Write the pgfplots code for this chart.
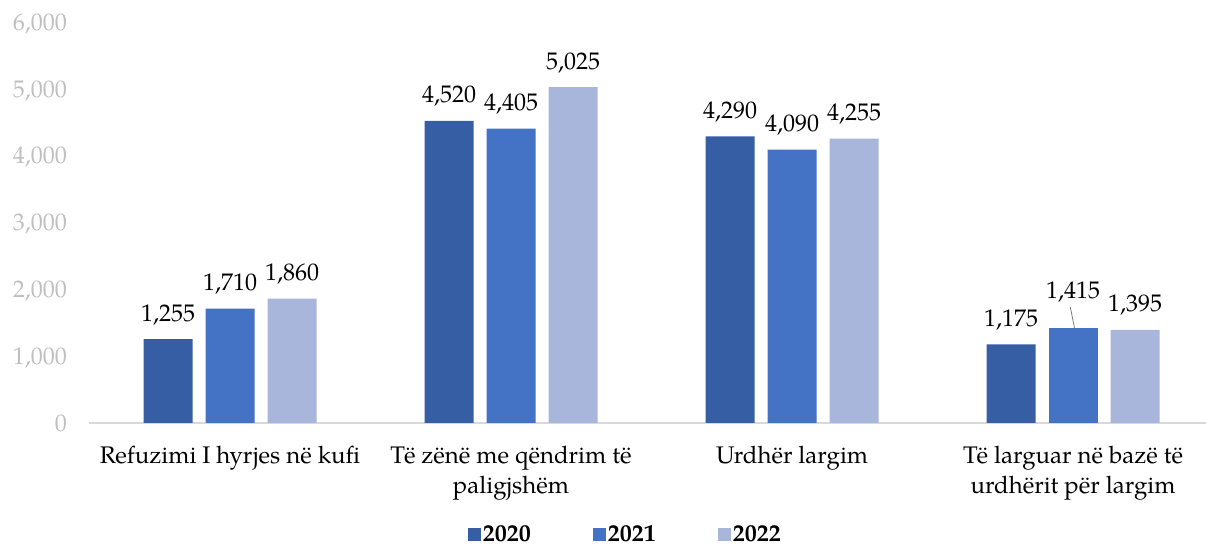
\documentclass[border=0pt]{standalone}
\usepackage{pgfplots}
\pgfplotsset{compat=1.18}
\usepackage{fontspec}
\setmainfont{TeX Gyre Pagella}
\definecolor{c20}{RGB}{54,94,164}
\definecolor{c21}{RGB}{68,114,196}
\definecolor{c22}{RGB}{169,182,219}
\definecolor{tickgray}{RGB}{191,191,191}
\definecolor{axgray}{RGB}{217,217,217}
\newcommand{\tl}[1]{\begin{tabular}[t]{@{}c@{}}#1\end{tabular}}
\begin{document}
\fontsize{24}{30}\selectfont
\begin{tikzpicture}
\path[use as bounding box] (-89.5pt,-125pt) rectangle (1116.5pt,423pt);
\begin{axis}[
  at={(0,0)}, anchor=south west,
  scale only axis, width=1116.5pt, height=401pt,
  xmin=-0.5, xmax=3.473, ymin=0, ymax=6000,
  ybar, bar width=49pt,
  axis x line*=bottom, axis y line*=left,
  x axis line style={draw=axgray, line width=1.5pt},
  y axis line style={draw=none},
  major tick length=0pt,
  ytick={0,1000,2000,3000,4000,5000,6000},
  yticklabel style={text=tickgray, font=\fontsize{24}{30}\selectfont, anchor=base east, inner sep=0pt, xshift=-22.5pt, yshift=-8.3pt},
  xtick={0,1,2,3},
  xticklabels={{\tl{Refuzimi I hyrjes në kufi}}, {\tl{Të zënë me qëndrim të\\paligjshëm}}, {\tl{Urdhër largim}}, {\tl{Të larguar në bazë të\\urdhërit për largim}}},
  xticklabel style={font=\fontsize{24}{30}\selectfont, anchor=base, inner sep=0pt, yshift=-40pt},
  /pgf/number format/1000 sep={,},
  /pgf/number format/assume math mode=true,
  scaled y ticks=false,
  nodes near coords,
  every node near coord/.append style={font=\fontsize{24}{30}\selectfont, text=black, anchor=base, inner sep=0pt, yshift=18pt},
  legend columns=3,
  legend style={draw=none, at={(0.48,-0.279)}, anchor=center, font=\fontsize{24}{30}\selectfont\bfseries,
    /tikz/every even column/.append style={column sep=60pt}},
  legend image code/.code={\fill[#1, draw=none] (0pt,-6.5pt) rectangle (13pt,6.5pt);},
  clip=false,
]
\addplot[fill=c20, draw=none, bar shift=-62pt] coordinates {(0,1255) (1,4520) (2,4290) (3,1175)};
\addlegendentry{2020}
\addplot[fill=c21, draw=none, bar shift=0pt] coordinates {(0,1710) (1,4405) (2,4090)};
\addlegendentry{2021}
\addplot[fill=c22, draw=none, bar shift=62pt] coordinates {(0,1860) (1,5025) (2,4255) (3,1395)};
\addlegendentry{2022}
\addplot[fill=c21, draw=none, bar shift=0pt, forget plot,
  every node near coord/.append style={yshift=12pt}] coordinates {(3,1415)};
\draw[gray, line width=0.8pt] (axis cs:3,1415) ++(1.5pt,0pt) -- ++(-4.3pt,21.5pt);
\end{axis}
\end{tikzpicture}
\end{document}
